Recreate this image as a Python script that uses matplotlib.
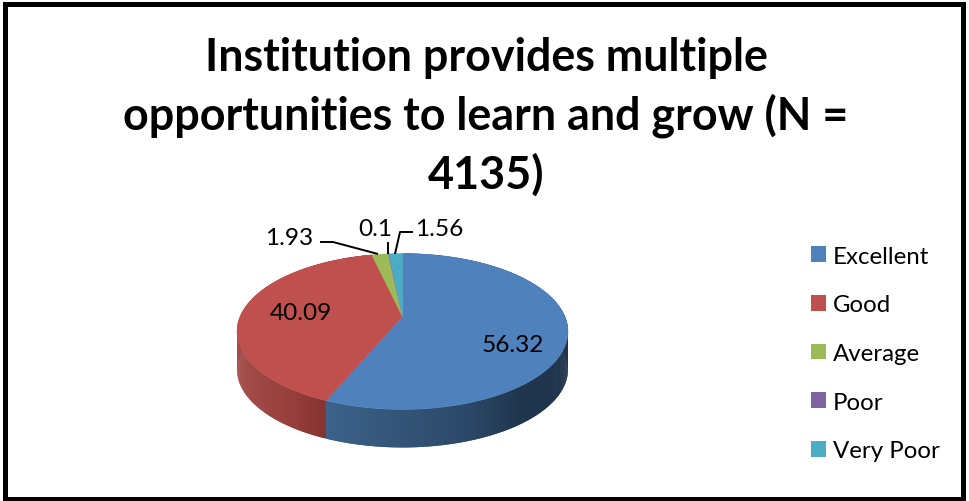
import numpy as np
import matplotlib
matplotlib.use("Agg")
import matplotlib.pyplot as plt
from matplotlib.patches import Patch, Rectangle
from matplotlib.colors import to_rgb

categories = ["Excellent", "Good", "Average", "Poor", "Very Poor"]
values = [56.32, 40.09, 1.93, 0.1, 1.56]
value_labels = ["56.32", "40.09", "1.93", "0.1", "1.56"]
colors = ["#4f81bd", "#c0504d", "#9bbb59", "#8064a2", "#4bacc6"]
title = "Institution provides multiple\nopportunities to learn and grow (N =\n4135)"

W, H = 969, 502
plt.rcParams['font.family'] = ['Lato', 'DejaVu Sans']
fig = plt.figure(figsize=(W/100, H/100), dpi=100, facecolor='white')
ax = fig.add_axes([0, 0, 1, 1])
ax.set_xlim(0, W); ax.set_ylim(H, 0); ax.axis('off')

# perspective projection of a unit circle
CX, CY, A, B, K, DEPTH = 402.5, 317.5, 162.4, 75.1, 0.192, 38

def project(theta):
    u, v = np.sin(theta), np.cos(theta)
    w = 1 + K*v
    return CX + A*u/w, CY - B*v/w

edges = np.radians(np.concatenate([[0], np.cumsum(values)]) * 3.6)

def side_color(i, x):
    if i == 0:
        stops_x, c = [327, 470, 520, 570], ["#3c6289", "#2c4868", "#20364f", "#1f344c"]
    else:
        stops_x, c = [237, 290, 327], ["#a44d4a", "#983f3c", "#84332f"]
    rgb = np.array([to_rgb(s) for s in c])
    return tuple(np.interp(x, stops_x, rgb[:, k]) for k in range(3))

# side wall: only the front of the first two slices shows; strips overlap to hide seams
for i in [1, 0]:
    n = max(2, int((edges[i+1]-edges[i]) / np.radians(0.5)))
    th = np.linspace(edges[i], edges[i+1], n+1)
    step = th[1]-th[0]
    for a in (th[:-1] if i == 1 else th[:-1][::-1]):
        t = np.linspace(a, min(a+2*step, edges[i+1]), 4)
        x, y = project(t)
        col = side_color(i, project(a+step/2)[0])
        ax.fill(np.r_[x, x[::-1]], np.r_[y, y[::-1]+DEPTH], color=col, lw=0, zorder=2)

# top face
for i, (name, col) in enumerate(zip(categories, colors)):
    th = np.linspace(edges[i], edges[i+1], 200)
    x, y = project(th)
    ax.fill(np.r_[CX, x], np.r_[CY, y], color=col, lw=0.3, zorder=3)

# labels
FS = 17.6
tk = dict(fontsize=FS, color='black', ha='center', va='center', zorder=5)
ax.text(513, 346, value_labels[0], **tk)
ax.text(301, 314, value_labels[1], **tk)
ax.text(289, 239, value_labels[2], **tk)
ax.text(375, 230, value_labels[3], **tk)
ax.text(439, 230, value_labels[4], **tk)
lk = dict(color='black', lw=1.4, zorder=4, solid_capstyle='butt')
ax.plot([320, 333, 378], [243, 243, 255], **lk)
ax.plot([388, 388], [243, 255], **lk)
ax.plot([413, 400, 395], [233, 233, 255], **lk)

# title
ax.text(486, 116.5, title, fontsize=32.3, fontweight='bold', ha='center', va='center',
        linespacing=1.41, color='black', zorder=5)

# legend
handles = [Patch(facecolor=c, edgecolor='none', label=n) for c, n in zip(colors, categories)]
leg = ax.legend(handles=handles, loc='center left', bbox_to_anchor=(811/W, 1-354.5/H),
                frameon=False, fontsize=17.3, labelspacing=1.15, handlelength=0.63,
                handleheight=0.63, handletextpad=0.27, borderpad=0, borderaxespad=0)

# border
ax.add_patch(Rectangle((5.5, 5), W-11, H-7.5, fill=False, ec='black', lw=3.6, zorder=6))

fig.savefig("out.png", dpi=100)
